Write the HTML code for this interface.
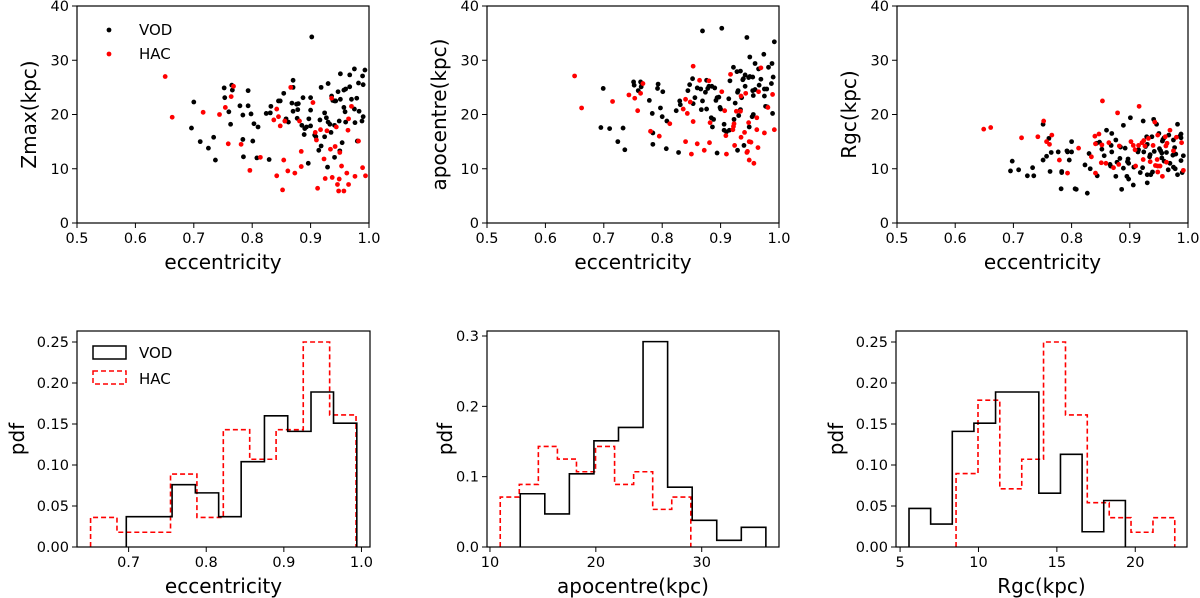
<!DOCTYPE html>
<html><head><meta charset="utf-8"><style>
html,body{margin:0;padding:0;background:#fff}
svg{display:block;font-family:"DejaVu Sans","Liberation Sans",sans-serif}
</style></head><body>
<svg id="fig" width="1200" height="598" viewBox="0 0 1200 598" xmlns="http://www.w3.org/2000/svg"></svg>
<script>
// ---- scatter data: eccentricity vs Zmax ----
const zmaxVodE=[0.902,0.70,0.696,0.711,0.725,0.734,0.737,0.752,0.753,0.76,0.763,0.765,0.766,0.779,0.784,0.784,0.785,0.793,0.793,0.798,0.801,0.803,0.810,0.808,0.829,0.824,0.831,0.832,0.845,0.848,0.854,0.856,0.858,0.862,0.868,0.870,0.870,0.870,0.876,0.877,0.878,0.879,0.885,0.887,0.890,0.889,0.893,0.897,0.900,0.900,0.900,0.896,0.907,0.909,0.916,0.914,0.918,0.918,0.924,0.924,0.927,0.930,0.929,0.930,0.933,0.935,0.936,0.938,0.941,0.941,0.941,0.943,0.947,0.949,0.951,0.951,0.950,0.954,0.957,0.957,0.959,0.960,0.960,0.967,0.967,0.970,0.975,0.975,0.976,0.979,0.980,0.982,0.983,0.989,0.990,0.988,0.990,0.993];
const zmaxVodV=[34.3,22.3,17.5,15.0,13.8,15.8,11.6,24.9,23.1,20.5,18.2,25.4,24.5,21.6,19.9,15.4,12.2,24.4,21.6,20.1,15.1,18.3,17.7,12.0,11.7,20.2,20.3,21.5,22.5,22.5,23.9,18.8,19.2,18.6,22.1,26.3,25.0,20.6,21.9,19.3,20.9,22.0,18.0,23.1,17.4,16.3,17.7,19.2,23.1,20.8,17.9,11.0,16.2,15.9,19.0,13.4,25.0,14.2,20.3,15.9,19.4,25.7,10.3,18.6,18.2,16.7,23.4,22.6,18.0,12.1,22.5,22.5,24.2,18.8,22.8,27.5,13.3,14.8,24.5,21.3,20.5,24.7,18.6,25.1,27.3,22.8,28.4,21.0,18.5,23.0,15.1,25.8,20.6,27.1,25.5,18.8,19.6,28.2];
const zmaxHacE=[0.651,0.663,0.716,0.744,0.754,0.759,0.764,0.768,0.781,0.796,0.814,0.837,0.842,0.842,0.845,0.848,0.852,0.854,0.856,0.861,0.866,0.873,0.881,0.884,0.884,0.904,0.908,0.910,0.912,0.917,0.923,0.925,0.928,0.934,0.936,0.937,0.942,0.944,0.946,0.948,0.949,0.950,0.953,0.957,0.962,0.964,0.965,0.965,0.970,0.976,0.982,0.989,0.994];
const zmaxHacV=[27.0,19.5,20.4,20.0,21.3,14.6,23.3,25.2,14.5,9.7,12.1,19.0,21.0,8.7,19.6,17.9,6.1,11.6,18.8,9.6,25.0,9.2,18.8,10.4,13.2,22.2,16.7,15.3,6.4,17.2,11.8,8.2,17.0,13.6,23.0,8.4,14.1,17.7,7.1,5.9,8.1,13.0,10.5,5.9,9.2,17.1,7.1,19.2,21.5,8.6,15.1,10.2,8.7];
// ---- scatter data: eccentricity vs apocentre ----
const apoVodE=[0.869,0.902,0.945,0.992,0.699,0.695,0.710,0.733,0.724,0.736,0.751,0.752,0.759,0.763,0.764,0.765,0.778,0.783,0.784,0.784,0.792,0.793,0.801,0.797,0.800,0.808,0.807,0.824,0.828,0.830,0.831,0.844,0.847,0.852,0.853,0.856,0.860,0.866,0.867,0.869,0.874,0.876,0.878,0.880,0.885,0.890,0.876,0.884,0.888,0.886,0.892,0.894,0.897,0.899,0.900,0.894,0.906,0.906,0.910,0.915,0.914,0.916,0.922,0.928,0.934,0.925,0.929,0.930,0.931,0.934,0.923,0.929,0.936,0.938,0.939,0.942,0.948,0.950,0.955,0.942,0.950,0.949,0.940,0.955,0.956,0.959,0.954,0.956,0.959,0.965,0.966,0.969,0.974,0.975,0.975,0.979,0.977,0.980,0.982,0.987,0.988,0.990,0.989];
const apoVodV=[35.4,35.9,34.2,33.4,24.8,17.6,17.4,17.5,15.0,13.5,26.0,25.4,24.4,26.0,25.1,25.7,22.6,20.2,16.6,14.5,24.8,25.6,24.2,21.2,19.6,18.8,13.7,20.7,13.0,22.5,21.8,24.4,25.5,26.6,22.0,23.1,24.9,24.7,20.9,22.5,24.1,26.3,24.8,25.2,25.2,24.9,21.0,19.4,19.1,17.7,22.6,23.1,23.2,21.3,21.0,12.9,18.2,17.1,16.8,17.1,22.9,26.2,28.7,27.9,28.0,22.1,24.1,24.4,19.8,20.9,19.1,13.4,23.1,26.4,26.6,27.3,26.8,27.0,26.9,25.2,30.6,17.7,14.3,24.4,23.5,24.6,19.6,20.0,29.4,28.4,25.4,26.5,31.1,23.4,24.7,24.7,21.5,21.4,28.7,25.7,29.4,26.9,20.2];
const apoHacE=[0.650,0.662,0.715,0.743,0.753,0.758,0.763,0.767,0.780,0.795,0.813,0.836,0.840,0.848,0.840,0.843,0.853,0.853,0.850,0.860,0.864,0.872,0.880,0.881,0.882,0.902,0.907,0.909,0.910,0.917,0.921,0.922,0.923,0.924,0.927,0.934,0.935,0.935,0.941,0.943,0.945,0.946,0.948,0.949,0.949,0.952,0.957,0.962,0.962,0.964,0.965,0.969,0.975,0.981,0.989,0.992];
const apoHacV=[27.1,21.2,22.4,23.6,23.0,20.7,23.9,25.7,16.9,16.0,18.3,21.0,22.8,22.3,15.0,20.2,18.7,28.9,12.7,14.6,26.3,13.4,26.2,14.8,18.5,24.2,20.7,16.1,12.7,27.4,17.2,17.8,18.3,14.3,20.6,20.6,23.4,15.8,16.7,23.9,13.0,13.2,18.5,11.6,15.0,14.9,11.0,19.4,17.2,13.9,24.2,28.6,16.6,21.3,23.7,17.2];
// ---- scatter data: eccentricity vs Rgc ----
const rgcVodE=[0.751,0.761,0.757,0.751,0.765,0.763,0.698,0.695,0.709,0.724,0.733,0.735,0.777,0.783,0.783,0.782,0.792,0.793,0.800,0.800,0.796,0.806,0.808,0.823,0.827,0.830,0.832,0.844,0.843,0.848,0.852,0.856,0.860,0.866,0.867,0.868,0.869,0.869,0.876,0.876,0.878,0.883,0.884,0.886,0.889,0.889,0.892,0.895,0.896,0.898,0.897,0.898,0.901,0.906,0.907,0.915,0.914,0.918,0.922,0.923,0.924,0.927,0.929,0.930,0.930,0.936,0.930,0.934,0.935,0.938,0.939,0.941,0.946,0.942,0.951,0.953,0.955,0.950,0.956,0.957,0.959,0.955,0.959,0.963,0.966,0.967,0.969,0.974,0.977,0.975,0.975,0.978,0.979,0.982,0.982,0.986,0.988,0.988,0.988,0.990,0.992];
const rgcVodV=[18.2,15.6,12.3,11.6,13.0,9.5,11.4,9.6,9.8,8.7,10.2,8.7,13.1,9.5,9.3,6.3,13.3,13.1,13.1,15.0,11.6,6.3,6.2,10.7,5.5,12.8,10.0,8.7,14.7,14.9,13.6,12.4,17.1,10.8,10.5,14.3,16.5,13.1,15.3,8.6,11.2,11.9,14.0,6.2,18.0,10.1,13.8,8.6,11.3,11.0,11.8,8.1,19.4,7.0,10.3,13.5,13.1,9.3,10.2,18.8,13.1,14.1,15.9,14.5,8.9,8.9,7.4,12.2,12.6,15.9,9.4,19.1,18.2,13.2,13.7,13.3,12.9,16.5,15.1,15.4,15.7,12.0,11.4,13.0,9.8,16.2,11.0,12.5,13.9,15.3,10.3,10.0,12.7,18.2,8.9,16.0,16.4,15.7,11.5,9.3,12.4];
const rgcHacE=[0.649,0.661,0.714,0.742,0.752,0.757,0.762,0.766,0.779,0.793,0.812,0.834,0.840,0.847,0.841,0.841,0.853,0.851,0.859,0.852,0.864,0.872,0.879,0.881,0.882,0.902,0.906,0.909,0.910,0.916,0.915,0.921,0.924,0.926,0.923,0.932,0.935,0.940,0.943,0.944,0.948,0.952,0.947,0.948,0.948,0.956,0.961,0.962,0.964,0.969,0.963,0.975,0.980,0.989,0.992];
const rgcHacV=[17.3,17.6,15.7,15.9,18.8,15.0,14.5,16.2,11.6,9.2,13.8,12.2,16.0,16.4,14.6,9.2,22.5,11.1,11.0,14.4,14.8,10.2,20.3,10.8,14.2,15.0,14.3,13.5,10.5,21.5,14.3,14.8,15.2,14.2,11.7,15.6,11.3,14.3,18.6,10.6,10.5,10.5,11.7,16.2,9.4,8.6,15.9,14.2,14.7,17.1,11.2,13.3,15.8,14.8,9.7];
// ---- histogram data (bin edges + pdf heights) ----
const eccVodEdges=[0.697,0.727,0.756,0.786,0.816,0.845,0.875,0.905,0.935,0.964,0.994];
const eccVodPdf=[0.037,0.037,0.076,0.066,0.037,0.104,0.160,0.141,0.189,0.151];
const eccHacEdges=[0.651,0.685,0.719,0.754,0.788,0.822,0.856,0.890,0.925,0.959,0.993];
const eccHacPdf=[0.036,0.018,0.018,0.089,0.036,0.143,0.107,0.143,0.25,0.161];
const apoVodEdges=[12.86,15.18,17.50,19.82,22.14,24.46,26.78,29.10,31.42,33.74,36.06];
const apoVodPdf=[0.0757,0.047,0.104,0.151,0.17,0.292,0.085,0.038,0.0095,0.028];
const apoHacEdges=[10.97,12.77,14.57,16.37,18.17,19.97,21.77,23.57,25.37,27.17,28.97];
const apoHacPdf=[0.071,0.089,0.143,0.125,0.107,0.143,0.089,0.107,0.0535,0.071];
const rgcVodEdges=[5.57,6.95,8.33,9.71,11.09,12.47,13.85,15.23,16.61,17.99,19.37];
const rgcVodPdf=[0.047,0.028,0.141,0.151,0.189,0.189,0.0656,0.113,0.0186,0.0567];
const rgcHacEdges=[8.57,9.97,11.36,12.76,14.15,15.55,16.94,18.34,19.73,21.13,22.52];
const rgcHacPdf=[0.0895,0.179,0.071,0.107,0.25,0.161,0.054,0.0357,0.018,0.0357];
// ---- tick labels ----
const topXTicks=[0.5,0.6,0.7,0.8,0.9,1.0];
const topYTicks=[0,10,20,30,40];
const eccXTicks=[0.7,0.8,0.9,1.0];
const apoXTicks=[10,20,30];
const rgcXTicks=[5,10,15,20];
const pdfTicks25=[0,0.05,0.10,0.15,0.20,0.25];
const pdfTicks3=[0,0.1,0.2,0.3];

const NS='http://www.w3.org/2000/svg';
const svg=document.getElementById('fig');
function mk(tag,attrs,parent){const e=document.createElementNS(NS,tag);for(const k in attrs)e.setAttribute(k,attrs[k]);(parent||svg).appendChild(e);return e;}

function panel(cfg){
  const g=mk('g',{});
  
  
  const sx=v=>cfg.l+(v-cfg.x0)/(cfg.x1-cfg.x0)*(cfg.r-cfg.l);
  const sy=v=>cfg.b-(v-cfg.y0)/(cfg.y1-cfg.y0)*(cfg.b-cfg.t);
  cfg.sx=sx;cfg.sy=sy;cfg.g=g;
  return cfg;
}
function frame(p){
  const r=mk('rect',{x:p.l,y:p.t,width:p.r-p.l,height:p.b-p.t,fill:'none',stroke:'#000','stroke-width':1.2},p.g);
  
  
  p.xt.forEach((v,i)=>{
    const x=p.sx(v);
    mk('line',{x1:x,x2:x,y1:p.b,y2:p.b+5,stroke:'#000','stroke-width':1},p.g);
    const t=mk('text',{x:x,y:p.b+20,'text-anchor':'middle','font-size':14.5},p.g);
    t.textContent=p.xl[i];
    
    
  });
  p.yt.forEach((v,i)=>{
    const y=p.sy(v);
    mk('line',{x1:p.l-5,x2:p.l,y1:y,y2:y,stroke:'#000','stroke-width':1},p.g);
    const t=mk('text',{x:p.l-8,y:y+5,'text-anchor':'end','font-size':14.5},p.g);
    t.textContent=p.yl[i];
    
    
  });
  const xt=mk('text',{x:(p.l+p.r)/2,y:p.b+46,'text-anchor':'middle','font-size':20},p.g);
  xt.textContent=p.xlabel;
  
  
  const yc=(p.t+p.b)/2;
  const yt=mk('text',{x:p.ylx,y:yc,'text-anchor':'middle','font-size':20,transform:`rotate(-90 ${p.ylx} ${yc})`},p.g);
  yt.textContent=p.ylabel;
  
  
}
function dots(p,xs,ys,color,name){
  xs.forEach((v,i)=>{
    const c=mk('circle',{cx:p.sx(v),cy:p.sy(ys[i]),r:2.4,fill:color},p.g);
    
    
  });
}
function hist(p,edges,h,color,dash,name){
  let d=`M${p.sx(edges[0])},${p.sy(0)}`;
  h.forEach((v,i)=>{d+=` L${p.sx(edges[i])},${p.sy(v)} L${p.sx(edges[i+1])},${p.sy(v)}`;});
  d+=` L${p.sx(edges[edges.length-1])},${p.sy(0)}`;
  const a={d:d,fill:'none',stroke:color,'stroke-width':1.6};
  if(dash)a['stroke-dasharray']='5,3';
  const e=mk('path',a,p.g);
  
  
}
const fmt1=v=>v.toFixed(1), fmt2=v=>v.toFixed(2), fmt0=v=>String(v);

const tops=[
 {name:'panel-zmax-scatter',l:77,r:369,ylabel:'Zmax(kpc)',ylx:36,xe:[zmaxVodE,zmaxHacE],ye:[zmaxVodV,zmaxHacV]},
 {name:'panel-apocentre-scatter',l:487,r:779,ylabel:'apocentre(kpc)',ylx:446,xe:[apoVodE,apoHacE],ye:[apoVodV,apoHacV]},
 {name:'panel-rgc-scatter',l:897,r:1188,ylabel:'Rgc(kpc)',ylx:856,xe:[rgcVodE,rgcHacE],ye:[rgcVodV,rgcHacV]}
];
tops.forEach(c=>{
  const p=panel({name:c.name,l:c.l,r:c.r,t:6,b:223,x0:0.5,x1:1.0,y0:0,y1:40,xt:topXTicks,xl:topXTicks.map(fmt1),yt:topYTicks,yl:topYTicks.map(fmt0),xlabel:'eccentricity',ylabel:c.ylabel,ylx:c.ylx});
  dots(p,c.xe[0],c.ye[0],'#000','vod-point');
  dots(p,c.xe[1],c.ye[1],'#f00','hac-point');
  frame(p);
});
(function(){
  const g=mk('g',{});
  
  
  mk('circle',{cx:109,cy:30,r:2.4,fill:'#000'},g);
  mk('circle',{cx:109,cy:54,r:2.4,fill:'#f00'},g);
  const a=mk('text',{x:139,y:35,'font-size':15},g);a.textContent='VOD';
  const b=mk('text',{x:139,y:59,'font-size':15},g);b.textContent='HAC';
})();

const bots=[
 {name:'panel-eccentricity-hist',l:77,r:370,x0:0.6335,x1:1.011,y1:0.2634,xt:eccXTicks,xl:eccXTicks.map(fmt1),yt:pdfTicks25,yl:pdfTicks25.map(fmt2),xlabel:'eccentricity',ylx:24,v:[eccVodEdges,eccVodPdf],h:[eccHacEdges,eccHacPdf]},
 {name:'panel-apocentre-hist',l:487,r:779,x0:9.72,x1:37.3,y1:0.3071,xt:apoXTicks,xl:apoXTicks.map(fmt0),yt:pdfTicks3,yl:pdfTicks3.map(fmt1),xlabel:'apocentre(kpc)',ylx:452,v:[apoVodEdges,apoVodPdf],h:[apoHacEdges,apoHacPdf]},
 {name:'panel-rgc-hist',l:896,r:1187,x0:4.74,x1:23.3,y1:0.2634,xt:rgcXTicks,xl:rgcXTicks.map(fmt0),yt:pdfTicks25,yl:pdfTicks25.map(fmt2),xlabel:'Rgc(kpc)',ylx:843,v:[rgcVodEdges,rgcVodPdf],h:[rgcHacEdges,rgcHacPdf]}
];
bots.forEach(c=>{
  const p=panel({name:c.name,l:c.l,r:c.r,t:331,b:547,x0:c.x0,x1:c.x1,y0:0,y1:c.y1,xt:c.xt,xl:c.xl,yt:c.yt,yl:c.yl,xlabel:c.xlabel,ylabel:'pdf',ylx:c.ylx});
  hist(p,c.h[0],c.h[1],'#f00',true,'hac-histogram');
  hist(p,c.v[0],c.v[1],'#000',false,'vod-histogram');
  frame(p);
});
(function(){
  const g=mk('g',{});
  
  
  mk('rect',{x:93,y:346,width:33,height:13,fill:'none',stroke:'#000','stroke-width':1.5},g);
  mk('rect',{x:93,y:371,width:33,height:13,fill:'none',stroke:'#f00','stroke-width':1.5,'stroke-dasharray':'5,3'},g);
  const a=mk('text',{x:139,y:358,'font-size':15},g);a.textContent='VOD';
  const b=mk('text',{x:139,y:384,'font-size':15},g);b.textContent='HAC';
})();
</script>
</body></html>
